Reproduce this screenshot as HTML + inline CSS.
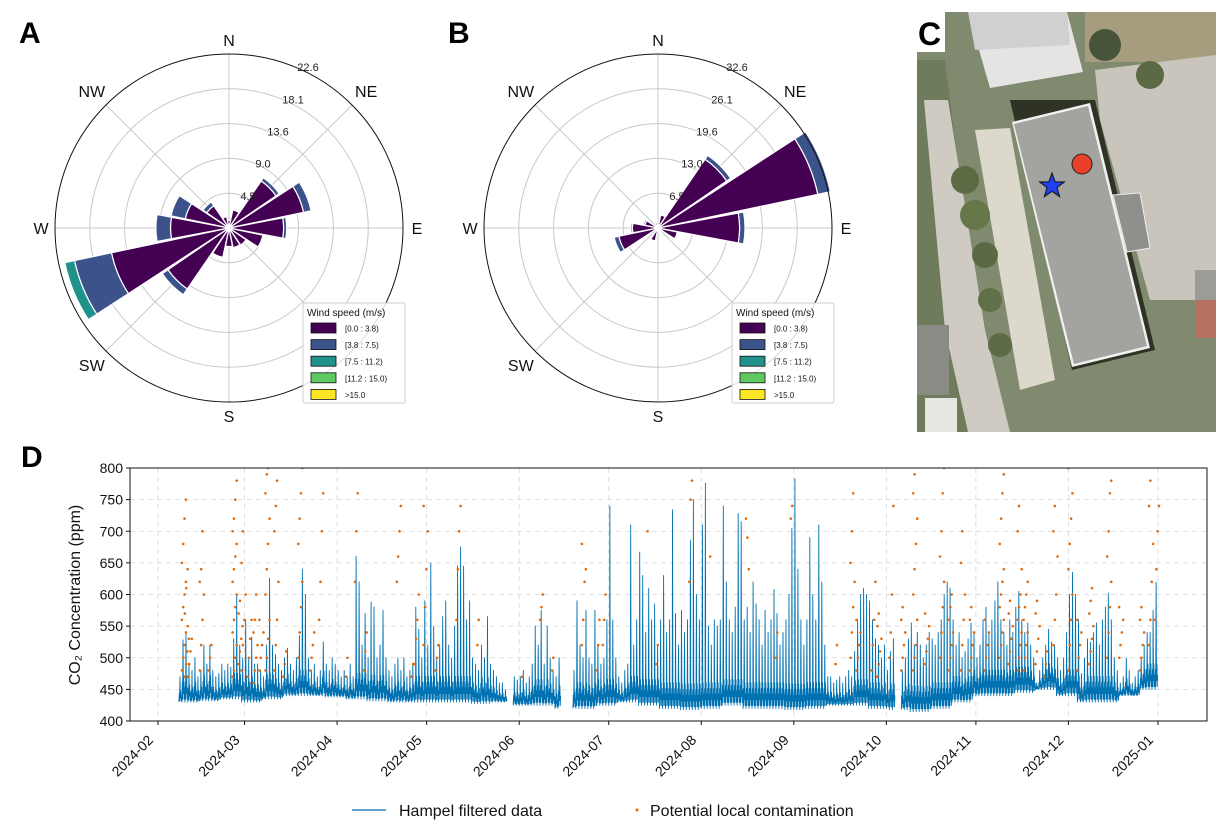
<!DOCTYPE html>
<html><head><meta charset="utf-8">
<style>
html,body{margin:0;padding:0;background:#fff;}
svg{display:block;font-family:"Liberation Sans","DejaVu Sans",sans-serif;}
</style></head>
<body>
<svg id="fig" width="1228" height="832" viewBox="0 0 1228 832" xmlns="http://www.w3.org/2000/svg">
  <rect x="0" y="0" width="1228" height="832" fill="#fff"/>
  <text x="19" y="43" font-size="30" font-weight="bold">A</text>
  <text x="448" y="43" font-size="30" font-weight="bold">B</text>
  <text x="21" y="467" font-size="30" font-weight="bold">D</text>
  <g id="roseA"></g>
  <g id="roseB"></g>
  <g id="mapC">
    <clipPath id="mapclip"><rect x="917" y="12" width="299" height="420"/></clipPath>
    <g clip-path="url(#mapclip)">
      <rect x="917" y="12" width="299" height="420" fill="#7f8a6e"/>
      <rect x="1085" y="12" width="131" height="50" fill="#a59d7e"/>
      <polygon points="1095,70 1216,55 1216,300 1150,300 1100,120" fill="#c9c5bd"/>
      <polygon points="917,60 945,60 975,300 1010,432 917,432" fill="#6f7c5c"/>
      <polygon points="924,100 948,100 985,330 1010,432 968,432 945,330" fill="#cfcbc3"/>
      <polygon points="975,130 1010,128 1055,380 1020,390" fill="#dcd8cc"/>
      <polygon points="968,12 1067,12 1083,72 990,88" fill="#e4e4e2"/>
      <polygon points="968,12 1067,12 1070,45 975,50" fill="#cfd0cf"/>
      <polygon points="1010,100 1095,100 1155,350 1072,370" fill="#2e3326"/>
      <polygon points="1012,122 1090,103 1150,348 1072,367" fill="#f0f0ee"/>
      <polygon points="1014,124 1088,106 1147,346 1074,364" fill="#a3a3a0"/>
      <polygon points="1113,195 1140,193 1150,248 1127,252" fill="#8f8f8c" stroke="#eee" stroke-width="1"/>
      <rect x="917" y="325" width="32" height="70" fill="#8b8b86"/>
      <rect x="925" y="398" width="32" height="34" fill="#e6e6e2"/>
      <rect x="1195" y="270" width="21" height="30" fill="#9b9b98"/>
      <rect x="1195" y="300" width="21" height="38" fill="#b87060"/>
      <circle cx="965" cy="180" r="14" fill="#5d6b45"/>
      <circle cx="975" cy="215" r="15" fill="#66774a"/>
      <circle cx="985" cy="255" r="13" fill="#5a6a44"/>
      <circle cx="990" cy="300" r="12" fill="#607048"/>
      <circle cx="1000" cy="345" r="12" fill="#5c6b45"/>
      <circle cx="1105" cy="45" r="16" fill="#47543a"/>
      <circle cx="1150" cy="75" r="14" fill="#5b6a45"/>
    </g>
    <rect x="917" y="12" width="28" height="40" fill="#fff"/>
    <text x="918" y="45" font-size="32" font-weight="bold">C</text>
    <circle cx="1082" cy="164" r="10" fill="#e8402a" stroke="#222" stroke-width="1"/>
    <polygon id="star" fill="#1f3ff0" stroke="#111" stroke-width="1"/>
  </g>
  <g id="ts"></g>
</svg>
<script>
const NS="http://www.w3.org/2000/svg";
function mk(tag,attrs,parent,txt){const e=document.createElementNS(NS,tag);for(const k in attrs)e.setAttribute(k,attrs[k]);if(txt!==undefined)e.textContent=txt;parent.appendChild(e);return e;}

// ---------- Wind rose data ----------
const dirLabels=["N","NNE","NE","ENE","E","ESE","SE","SSE","S","SSW","SW","WSW","W","WNW","NW","NNW"];
const speedBins=["[0.0 : 3.8)","[3.8 : 7.5)","[7.5 : 11.2)","[11.2 : 15.0)",">15.0"];
const binColors=["#440154","#3b528b","#21918c","#5ec962","#fde725"];
const roseA_bin1=[1.0,2.4,7.4,9.9,7.1,4.5,2.7,2.6,2.4,3.9,9.6,15.6,7.6,5.8,3.5,1.5];
const roseA_bin2=[0,0,0.5,1.0,0.4,0,0,0,0,0,0.9,4.9,1.9,1.9,0.6,0];
const roseA_bin3=[0,0,0,0,0,0,0,0,0,0,0,1.3,0,0,0,0];
const roseA_ticks=["4.5","9.0","13.6","18.1","22.6"];
const roseA_max=22.6;
const roseB_bin1=[1.0,2.5,15.6,30.6,15.3,3.7,1.0,0.5,0.5,2.5,1.0,7.5,4.8,2.5,1.0,1.0];
const roseB_bin2=[0,0,0.9,2.4,1.0,0,0,0,0,0,0,0.9,0.3,0.3,0,0];
const roseB_bin3=[0,0,0,0,0,0,0,0,0,0,0,0,0,0,0,0];
const roseB_ticks=["6.5","13.0","19.6","26.1","32.6"];
const roseB_max=32.6;

function drawRose(g,cx,cy,bins,ticks,rmax,pre){
  const R=174;
  const rs=v=>v/rmax*R;
  ticks.forEach((t,i)=>{const r=R*(i+1)/ticks.length;
    if(i<ticks.length-1){const c=mk('circle',{cx,cy,r,fill:'none',stroke:'#c8c8c8','stroke-width':1},g);
    
    }
  });
  for(let k=0;k<8;k++){const a=k*Math.PI/4;
    const l=mk('line',{x1:cx,y1:cy,x2:cx+R*Math.sin(a),y2:cy-R*Math.cos(a),stroke:'#c8c8c8','stroke-width':1},g);
    
    }
  const half=10.6*Math.PI/180;
  function wedge(th,r0,r1){
    const a0=th-half,a1=th+half;
    const p=(r,a)=>(cx+r*Math.sin(a)).toFixed(2)+','+(cy-r*Math.cos(a)).toFixed(2);
    return 'M'+p(r0,a0)+' L'+p(r1,a0)+' A'+r1+','+r1+' 0 0 1 '+p(r1,a1)+' L'+p(r0,a1)+(r0>0?' A'+r0+','+r0+' 0 0 0 '+p(r0,a0):'')+' Z';
  }
  for(let d=0;d<16;d++){
    const th=d*Math.PI/8;let cum=0;
    bins.forEach((arr,bi)=>{const v=arr[d];if(v<=0)return;
      const r0=rs(cum),r1=rs(cum+v);cum+=v;
      const w=mk('path',{d:wedge(th,r0,r1),fill:binColors[bi],stroke:'#fff','stroke-width':1.2},g);
      
      
    });
  }
  mk('circle',{cx,cy,r:R,fill:'none',stroke:'#111','stroke-width':1},g);
  ticks.forEach((t,i)=>{const r=R*(i+1)/ticks.length*1.02;const a=25*Math.PI/180;
    const tx=mk('text',{x:cx+r*Math.sin(a)+4,y:cy-r*Math.cos(a)+4,'font-size':11,'text-anchor':'middle',fill:'#222'},g,t);
    
    });
  const comp=[["N",0],["NE",45],["E",90],["SE",135],["S",180],["SW",225],["W",270],["NW",315]];
  comp.forEach(([n,deg])=>{const a=deg*Math.PI/180;const r=R+14+(deg%90?6:0);
    const tx=mk('text',{x:cx+r*Math.sin(a),y:cy-r*Math.cos(a)+6,'font-size':16,'text-anchor':'middle',fill:n=="SE"?'#ccc':'#111'},g,n);
    
    });
  const lx=cx+74,ly=cy+75;
  const lg=mk('g',{},g);
  
  
  mk('rect',{x:lx,y:ly,width:102,height:100,fill:'#fff','fill-opacity':0.85,stroke:'#ccc',rx:2},lg);
  mk('text',{x:lx+4,y:ly+13,'font-size':10,fill:'#111'},lg,'Wind speed (m/s)');
  speedBins.forEach((s,i)=>{const yy=ly+20+i*16.6;
    mk('rect',{x:lx+8,y:yy,width:25,height:10,fill:binColors[i],stroke:'#111','stroke-width':0.8},lg);
    const t=mk('text',{x:lx+42,y:yy+8.5,'font-size':8,fill:'#111'},lg,s);
    
    });
}
drawRose(document.getElementById('roseA'),229,228,[roseA_bin1,roseA_bin2,roseA_bin3],roseA_ticks,roseA_max,'rose-a');
drawRose(document.getElementById('roseB'),658,228,[roseB_bin1,roseB_bin2,roseB_bin3],roseB_ticks,roseB_max,'rose-b');

(function(){const cx=1052,cy=186,ro=13,ri=5.3;let p=[];for(let i=0;i<10;i++){const r=i%2?ri:ro;const a=i*Math.PI/5;p.push((cx+r*Math.sin(a)).toFixed(1)+','+(cy-r*Math.cos(a)).toFixed(1));}document.getElementById('star').setAttribute('points',p.join(' '));})();

// ---------- Time series data ----------
const monthLabels=["2024-02","2024-03","2024-04","2024-05","2024-06","2024-07","2024-08","2024-09","2024-10","2024-11","2024-12","2025-01"];
const monthDays=[0,29,60,90,121,151,182,213,244,274,305,335];
const yTicks=[400,450,500,550,600,650,700,750,800];
const startDay=7;
const dailyPeak=[470,528,537,490,480,500,470,480,520,490,
520,480,470,475,490,480,490,485,530,600,
520,500,560,500,533,490,490,480,470,520,
626,520,505,490,480,500,515,490,480,500,
535,640,600,500,480,490,470,480,525,490,
480,500,490,480,470,480,470,490,470,660,
620,520,570,500,588,580,500,520,575,500,
480,470,490,500,480,500,470,480,490,580,
545,500,590,520,650,550,500,520,565,590,
520,500,550,645,675,645,560,590,500,490,
480,520,500,565,490,480,470,460,460,450,
null,null,470,465,470,480,460,470,490,550,
520,575,490,550,500,480,470,500,null,null,
null,null,480,590,520,500,575,500,490,575,
520,490,500,560,740,560,500,470,460,480,
490,710,520,560,667,630,540,610,560,585,
520,560,630,540,560,734,570,520,575,540,
560,686,750,600,560,710,776,550,520,560,
550,560,740,620,560,540,580,728,715,560,
580,540,620,585,560,520,575,540,560,608,
570,520,540,560,600,705,783,640,560,520,
560,690,600,560,710,620,520,470,470,460,
465,470,460,470,480,470,510,560,600,610,
600,590,560,530,520,500,520,480,510,530,
null,null,480,500,530,555,520,540,520,500,
520,540,530,520,540,560,600,620,610,560,
520,540,500,510,530,555,540,500,520,560,
580,540,560,590,620,560,540,520,560,540,
580,605,560,540,555,520,500,460,480,500,
520,545,525,520,500,480,500,540,600,635,
600,560,475,500,530,525,540,555,520,560,
580,602,560,500,480,460,470,500,480,460,
470,480,500,520,540,540,575,620];
const weeklyBase=[430,432,435,430,435,440,440,438,435,432,430,430,430,430,428,430,425,425,420,420,425,430,425,420,418,420,425,420,420,418,420,425,425,420,418,415,420,430,440,440,445,450,440,430,430,440,450,440,430,440,450];
const contamDay=[1,2,7,18,21,25,29,32,40,47,59,73,79,82,93,100,121,135,142,157,171,178,190,205,225,232,238,246,255,262,275,281,293,298,311,325,327,
3,10,20,23,27,35,44,56,62,78,86,115,125,140,160,200,220,227,234,242,250,258,265,270,278,283,287,290,301,305,315,322];
const contamVals=[
[480,500,520,540,560,580,600,620,650,680,720,750],
[470,490,510,530,570,610,640],
[480,520,560,600,620,640,700],
[470,480,500,520,540,560,580,600,620,640,660,680,700,720,750,780],
[480,520,560,600,650,700],
[460,480,500,520,540,560,600],
[480,500,530,560,600,640,680,720,760,790,800],
[480,520,560,620,700,740,780],
[500,540,580,620,680,720,760,800],
[560,620,700,760],
[620,700,760],
[620,660,700,740],
[490,530,560,600],
[520,580,640,700,740],
[560,640,700,740],
[520,560],
[560,580,600],
[520,560,620,640,680],
[520,560,600],
[700],
[620,750,780],
[660],
[720,690,640],
[720,740],
[500,540,580,620,650,700,760],
[480,520,560,620],
[500,540,600,740],
[480,500,520,560,600,640,680,720,760,790],
[500,540,580,620,660,700,760,800],
[480,520,560,600,650,700],
[500,520,540,560,580,600,620,640,680,720,760,790],
[480,500,520,540,560,580,600,640,700,740],
[520,560,600,660,700,740],
[480,520,560,600,640,680,720,760,800],
[500,540,580,620,660,700,760,780],
[520,560,620,680,740,780],
[560,640,700,740],
[470,490,510,530,550],
[480,500,520],
[490,510,530,550,570,590],
[470,500,530,560],
[480,500,520,540,560],
[470,490,510],
[480,500,520,540],
[470,500],
[480,510,540],
[470,490],
[480,500,520],
[470],
[480,500],
[480,520,560],
[490,520],
[500,540],
[490,520],
[480,500,520,540,560],
[470,490,510,530,550,570],
[480,500,520,540,560,580],
[490,510,530,550,570],
[480,500,520,540,560,580,600],
[480,500,520,540,560,580],
[480,500,520,540,560],
[490,510,530,550,570,590],
[480,500,520,540,560,580,600,620],
[490,510,530,550,570,590],
[470,490,510],
[480,500,520,540,560],
[490,510,530,550,570,590,610],
[500,520,540,560,580],
[480,500,520,540,560,580],
[470,490,510,530]];

(function(){
  const g=document.getElementById('ts');
  const L=130,R=1207,T=468,B=721;
  const xs=d=>158+d*2.985;
  const ys=v=>B-(v-400)/400*(B-T);
  yTicks.forEach(v=>{const y=ys(v);
    if(v>400&&v<800){const l=mk('line',{x1:L,x2:R,y1:y,y2:y,stroke:'#d6d6d6','stroke-dasharray':'5,4','stroke-width':0.8},g);
      
      }
    mk('line',{x1:L-4,x2:L,y1:y,y2:y,stroke:'#111'},g);
    const t=mk('text',{x:L-7,y:y+5,'font-size':14,'text-anchor':'end',fill:'#111'},g,String(v));
    
    
  });
  monthDays.forEach((d,i)=>{const x=xs(d);
    const l=mk('line',{x1:x,x2:x,y1:T,y2:B,stroke:'#d6d6d6','stroke-dasharray':'5,4','stroke-width':0.8},g);
    
    
    mk('line',{x1:x,x2:x,y1:B,y2:B+4,stroke:'#111'},g);
    const ax=x-4,ay=B+20;
    const t=mk('text',{x:ax,y:ay,'font-size':14,'text-anchor':'end',fill:'#111',transform:'rotate(-45 '+ax+' '+ay+')'},g,monthLabels[i]);
    
    
  });
  const clip=mk('clipPath',{id:'tsclip'},g);mk('rect',{x:L,y:T,width:R-L,height:B-T},clip);
  const pg=mk('g',{'clip-path':'url(#tsclip)'},g);
  const shape=[0,0.35,0.05,1,0.15,0.45,0.05,0.25];
  let segs=[],cur=[];
  dailyPeak.forEach((p,i)=>{
    if(p===null){if(cur.length)segs.push(cur);cur=[];return;}
    const b=weeklyBase[Math.min(weeklyBase.length-1,Math.floor(i/7))];
    const x=xs(startDay+i);
    const step=2.985/shape.length;
    shape.forEach((f,k)=>{
      const hv=(f===1)?p:b+Math.min(f*(p-b),f*90);
      cur.push([x+k*step,ys(hv)]);
    });
  });
  if(cur.length)segs.push(cur);
  const lg=mk('g',{},pg);
  
  
  segs.forEach(s=>{mk('polyline',{points:s.map(p=>p[0].toFixed(1)+','+p[1].toFixed(1)).join(' '),fill:'none',stroke:'#0072b2','stroke-width':0.9,'stroke-linejoin':'round'},lg);});
  const dg=mk('g',{},pg);
  
  
  contamDay.forEach((d,ci)=>{contamVals[ci].forEach((v,j)=>{
    const x=xs(startDay+d+(j%4)*0.45);
    const c=mk('circle',{cx:x,cy:ys(v),r:1.3,fill:'#e06a0c'},dg);
    
    
  });});
  mk('rect',{x:L,y:T,width:R-L,height:B-T,fill:'none',stroke:'#111','stroke-width':1},g);
  const yt=mk('text',{x:80,y:595,'font-size':16,'text-anchor':'middle',fill:'#111',transform:'rotate(-90 80 595)'},g,'CO₂ Concentration (ppm)');
  
  
  const leg=mk('g',{},g);
  
  
  mk('line',{x1:352,x2:386,y1:810,y2:810,stroke:'#0072b2','stroke-width':1.2},leg);
  const t1=mk('text',{x:399,y:816,'font-size':16,fill:'#111'},leg,'Hampel filtered data');
  
  
  mk('circle',{cx:637,cy:810,r:1.5,fill:'#e06a0c'},leg);
  const t2=mk('text',{x:650,y:816,'font-size':16,fill:'#111'},leg,'Potential local contamination');
  
  
})();
</script>
</body></html>
